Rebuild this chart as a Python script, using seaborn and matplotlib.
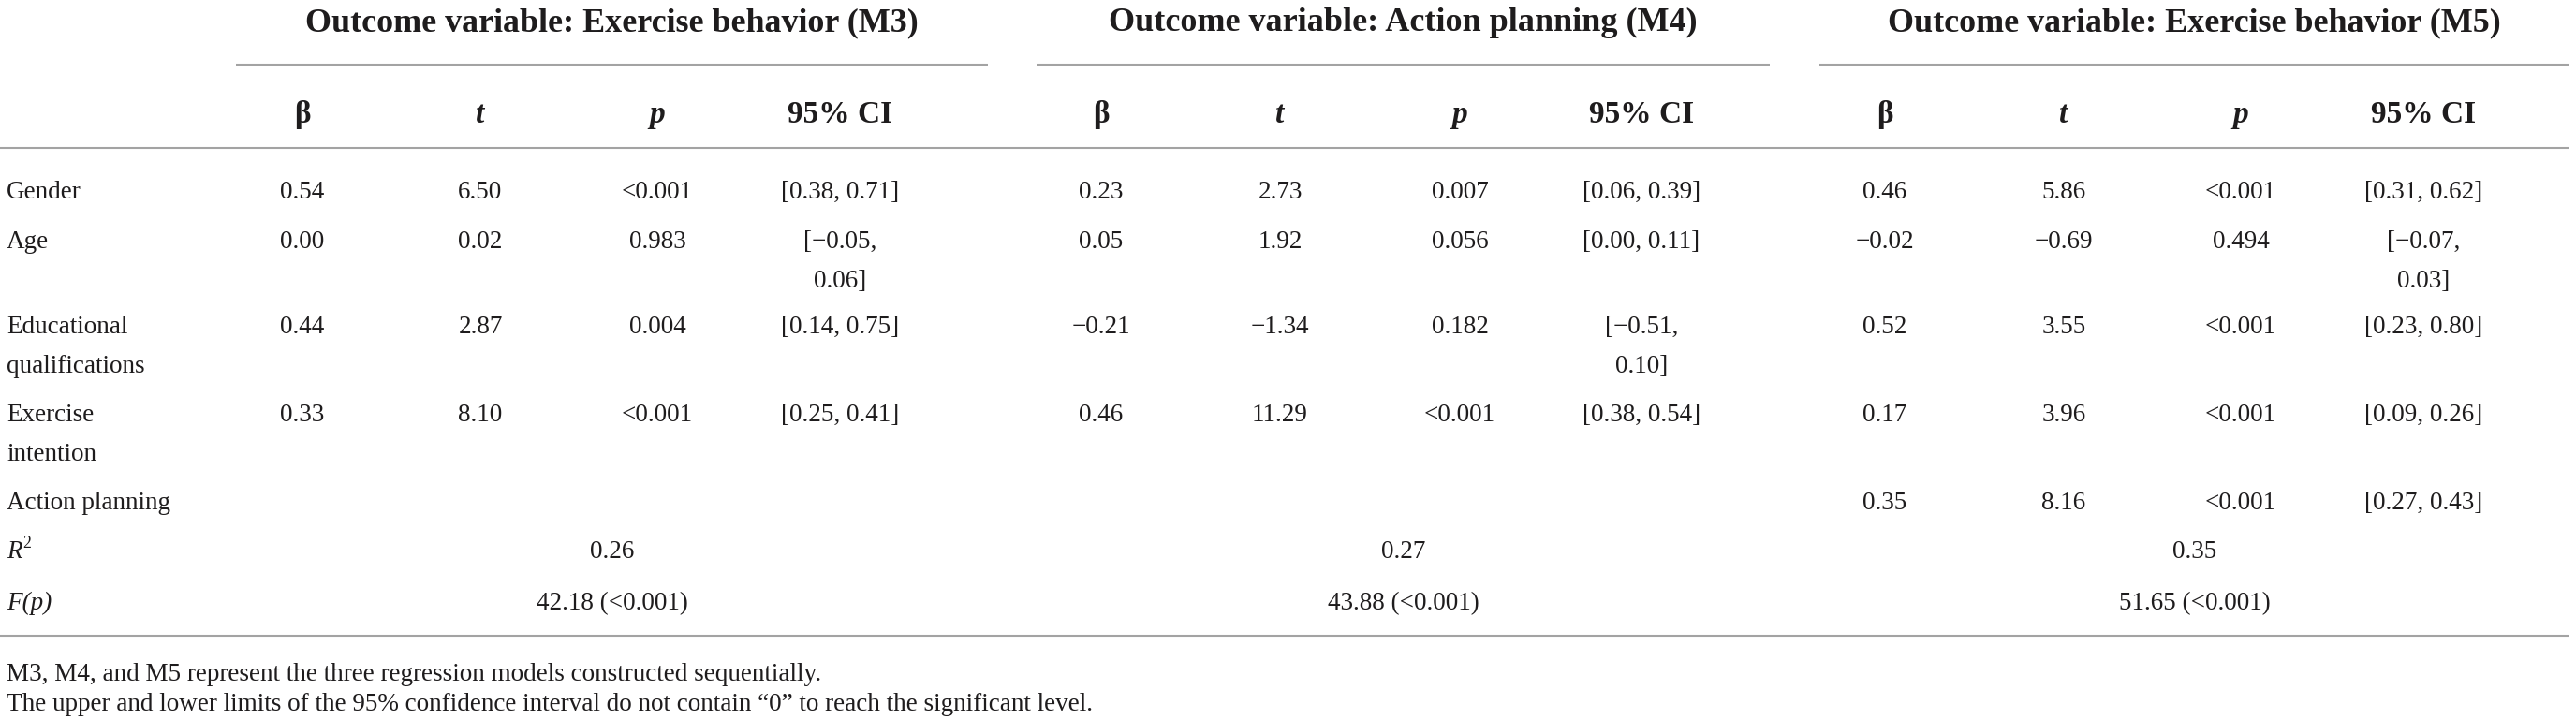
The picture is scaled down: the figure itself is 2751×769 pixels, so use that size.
import matplotlib
matplotlib.use("Agg")
import matplotlib.pyplot as plt
import seaborn as sns

# ---------------- data ----------------
row_labels = ["Gender", "Age", "Educational\nqualifications", "Exercise\nintention", "Action planning"]
model_titles = ["Outcome variable: Exercise behavior (M3)",
                "Outcome variable: Action planning (M4)",
                "Outcome variable: Exercise behavior (M5)"]
col_headers = ["β", "t", "p", "95% CI"]

m3_beta = [0.54, 0.00, 0.44, 0.33, None]
m3_t = [6.50, 0.02, 2.87, 8.10, None]
m3_p = ["<0.001", "0.983", "0.004", "<0.001", None]
m3_ci_low = [0.38, -0.05, 0.14, 0.25, None]
m3_ci_high = [0.71, 0.06, 0.75, 0.41, None]

m4_beta = [0.23, 0.05, -0.21, 0.46, None]
m4_t = [2.73, 1.92, -1.34, 11.29, None]
m4_p = ["0.007", "0.056", "0.182", "<0.001", None]
m4_ci_low = [0.06, 0.00, -0.51, 0.38, None]
m4_ci_high = [0.39, 0.11, 0.10, 0.54, None]

m5_beta = [0.46, -0.02, 0.52, 0.17, 0.35]
m5_t = [5.86, -0.69, 3.55, 3.96, 8.16]
m5_p = ["<0.001", "0.494", "<0.001", "<0.001", "<0.001"]
m5_ci_low = [0.31, -0.07, 0.23, 0.09, 0.27]
m5_ci_high = [0.62, 0.03, 0.80, 0.26, 0.43]

r_squared = [0.26, 0.27, 0.35]
f_values = [42.18, 43.88, 51.65]
f_pvalues = ["<0.001", "<0.001", "<0.001"]

notes = ["M3, M4, and M5 represent the three regression models constructed sequentially.",
         "The upper and lower limits of the 95% confidence interval do not contain \u201c0\u201d to reach the significant level."]

models = [
    (m3_beta, m3_t, m3_p, m3_ci_low, m3_ci_high),
    (m4_beta, m4_t, m4_p, m4_ci_low, m4_ci_high),
    (m5_beta, m5_t, m5_p, m5_ci_low, m5_ci_high),
]

# ---------------- layout / style ----------------
W, H = 2751, 769
sns.set_theme(style="white")
plt.rcParams['font.family'] = ['Liberation Serif', 'DejaVu Serif']
TXT = "#1e1c1d"
RULE = "#a3a3a3"
BODY = 19.5
HEAD = 24

col_x = [[323, 513, 702, 897], [1176, 1367, 1559, 1753], [2013, 2204, 2393, 2588]]
group_span = [(252, 1055), (1107, 1890), (1943, 2744)]
row_y = [212, 265, 356, 450, 544]
line_gap = 42
r2_y, f_y = 596, 651
label_x = 7

fig = plt.figure(figsize=(W / 100, H / 100), dpi=100)
ax = fig.add_axes([0, 0, 1, 1])
ax.set_xlim(0, W)
ax.set_ylim(H, 0)
ax.axis("off")
sns.despine(ax=ax, left=True, bottom=True)


def fmt(v):
    return f"{v:.2f}".replace("-", "\u2212")


def put(x, y, s, ha="center", size=BODY, **kw):
    lines = s.split("\n")
    for i, ln in enumerate(lines):
        ax.text(x, y + i * line_gap, ln, ha=ha, va="baseline", fontsize=size, color=TXT, **kw)


# titles fitted to measured widths
renderer = fig.canvas.get_renderer()
for (x0, x1), title in zip(group_span, model_titles):
    cx = (x0 + x1) / 2
    t = ax.text(cx, 33, title, ha="center", va="baseline", fontsize=26, fontweight="bold", color=TXT)
    bb = t.get_window_extent(renderer)
    target = 655 if "Action" not in title else 630
    t.set_fontsize(26 * target / bb.width)
    ax.hlines(69, x0, x1, color=RULE, lw=1.5)

# column headers
for g in range(3):
    for j, h in enumerate(col_headers):
        style = "italic" if h in ("t", "p") else "normal"
        put(col_x[g][j], 131, h, size=HEAD, fontweight="bold", fontstyle=style)

ax.hlines(158, 0, 2744, color=RULE, lw=1.5)
ax.hlines(679, 0, 2744, color=RULE, lw=1.5)

# row labels
for lab, y in zip(row_labels, row_y):
    put(label_x, y, lab, ha="left")

# cells
for g, (beta, tv, pv, lo, hi) in enumerate(models):
    for i in range(len(row_labels)):
        if beta[i] is None:
            continue
        y = row_y[i]
        put(col_x[g][0], y, fmt(beta[i]))
        put(col_x[g][1], y, fmt(tv[i]))
        put(col_x[g][2], y, pv[i])
        sep = ",\n" if lo[i] < 0 else ", "
        put(col_x[g][3], y, "[" + fmt(lo[i]) + sep + fmt(hi[i]) + "]")

# R2 and F rows
r = ax.text(label_x, r2_y, "R", ha="left", va="baseline", fontsize=BODY, fontstyle="italic", color=TXT)
rw = r.get_window_extent(renderer).width
ax.text(label_x + rw + 1, r2_y - 11, "2", ha="left", va="baseline", fontsize=BODY * 0.65, color=TXT)
put(label_x, f_y, "F(p)", ha="left", fontstyle="italic")
for g, (x0, x1) in enumerate(group_span):
    cx = (x0 + x1) / 2
    put(cx, r2_y, fmt(r_squared[g]))
    put(cx, f_y, f"{fmt(f_values[g])} ({f_pvalues[g]})")

# notes
put(label_x, 727, notes[0], ha="left")
put(label_x, 759, notes[1], ha="left")

fig.savefig("out.png", dpi=100, facecolor="white")
